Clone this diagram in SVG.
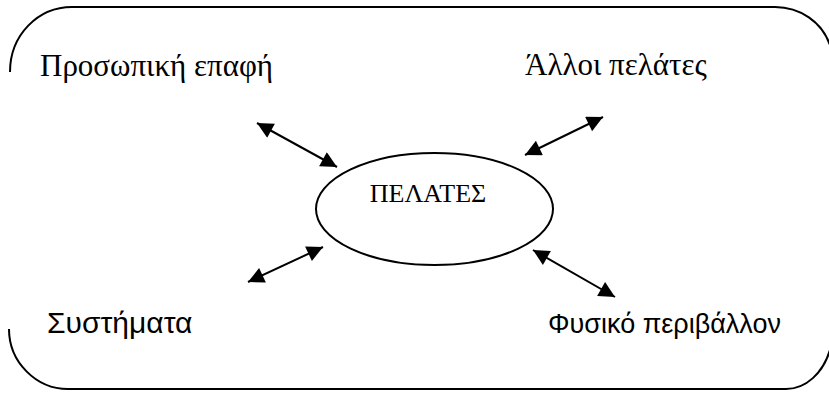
<svg xmlns="http://www.w3.org/2000/svg" width="829" height="394" viewBox="0 0 829 394">
<style>
.frame{fill:none;stroke:#000;stroke-width:2}
.conn{stroke:#000;stroke-width:2;fill:none;marker-start:url(#ah);marker-end:url(#ah)}
.serif{font-family:"Liberation Serif","DejaVu Serif","Times New Roman",serif;fill:#000}
.sans{font-family:"Liberation Sans",Arial,sans-serif;fill:#000}
</style>
<defs>
<marker id="ah" viewBox="0 0 10 10" refX="10" refY="5" markerWidth="9" markerHeight="8" markerUnits="strokeWidth" orient="auto-start-reverse">
<path d="M0,0 L10,5 L0,10 z" fill="#000"/>
</marker>
</defs>
<rect width="829" height="394" fill="#fff"/>
<g id="frame">
<path class="frame" d="M10,72 C10,35 38,7 72,7 L775,7 C800,7 822,22 830,45"/>
<path class="frame" d="M9,329 C9,362 36,389 68,389 L786,389 C806,389 823,373 830,350"/>
</g>
<g id="connectors">
<line class="conn" x1="257" y1="123" x2="337" y2="167"/>
<line class="conn" x1="603" y1="117" x2="525" y2="155"/>
<line class="conn" x1="248" y1="282" x2="323" y2="247"/>
<line class="conn" x1="533" y1="250" x2="615" y2="297"/>
</g>
<g id="center">
<ellipse cx="434.5" cy="209" rx="118.5" ry="56" fill="none" stroke="#000" stroke-width="2"/>
<text class="serif" x="428" y="202" font-size="26" text-anchor="middle">ΠΕΛΑΤΕΣ</text>
</g>
<g id="n-personal"><text class="serif" x="40" y="76" font-size="31">Προσωπική επαφή</text></g>
<g id="n-others"><text class="serif" x="525" y="75" font-size="31">Άλλοι πελάτες</text></g>
<g id="n-systems"><text class="sans" x="47" y="333" font-size="30">Συστήματα</text></g>
<g id="n-nature"><text class="sans" x="548" y="333" font-size="27">Φυσικό περιβάλλον</text></g>
</svg>
